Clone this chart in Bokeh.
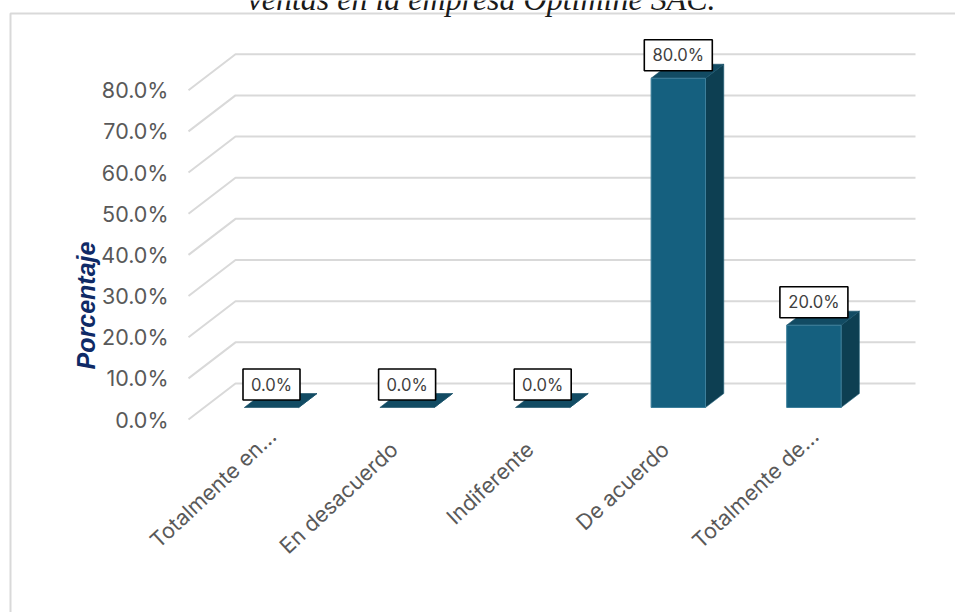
from math import pi
from bokeh.embed import file_html
from bokeh.resources import INLINE
from bokeh.plotting import figure
from bokeh.models import Range1d, Label, BoxAnnotation, FixedTicker
from bokeh.core.properties import value

categories = ["Totalmente en…", "En desacuerdo", "Indiferente", "De acuerdo", "Totalmente de…"]
percent = [0.0, 0.0, 0.0, 80.0, 20.0]
y_ticks = [0, 10, 20, 30, 40, 50, 60, 70, 80]
title_text = "ventas en la empresa Optimine SAC."
y_title = "Porcentaje"

PX_X = 135.6          # screen px per category
PX_Y = 4.116          # screen px per percentage point
X0 = 271.0            # screen x of category 0
Y0 = 419.0            # screen y of 0 %

def dx(px):
    return px / PX_X

def dy(px):
    return px / PX_Y

def sx(px):
    return (px - X0) / PX_X

def sy(px):
    return (Y0 - px) / PX_Y

W, H = 955, 612

p = figure(width=W, height=H, output_backend="svg", toolbar_location=None,
           x_range=Range1d(sx(0), sx(W)), y_range=Range1d(sy(H), sy(0)),
           min_border=0, min_border_left=0, min_border_right=0, min_border_top=0, min_border_bottom=0)
p.outline_line_color = None
p.grid.visible = False

# value axis, drawn inside the frame
ya = p.yaxis[0]
ya.fixed_location = sx(172)
ya.ticker = FixedTicker(ticks=y_ticks)
ya.major_label_overrides = {t: f"{t:.1f}%" for t in y_ticks}
ya.major_label_text_font = "Inter"
ya.major_label_text_font_size = "21.5px"
ya.major_label_text_color = "#595959"
ya.major_label_standoff = 4
ya.major_tick_out = 0
ya.major_tick_in = 0
ya.axis_line_color = None
ya.major_tick_line_color = None
ya.minor_tick_line_color = None

# category axis: labels are anchored individually below
xa = p.xaxis[0]
xa.fixed_location = 0
xa.ticker = FixedTicker(ticks=list(range(len(categories))))
xa.major_label_text_font_size = "0px"
xa.major_label_text_color = None
xa.major_tick_out = 0
xa.major_tick_in = 0
xa.axis_line_color = None
xa.major_tick_line_color = None
xa.minor_tick_line_color = None

# 3D gridlines
fx, bx, ex = sx(188), sx(235), sx(915)
wall = dy(36)
xs = [[fx, bx, ex] for _ in y_ticks]
ys = [[t, t + wall, t + wall] for t in y_ticks]
p.multi_line(xs, ys, line_color="#d9d9d9", line_width=2)

# 3D bars
half = dx(27.2)
ddx, ddy = dx(18.3), dy(14)
lift = dy(12)
for i, v in enumerate(percent):
    l, r = i - half, i + half
    b, t = lift, lift + v
    p.patch([r, r + ddx, r + ddx, r], [b, b + ddy, t + ddy, t], fill_color="#0d3f52", line_color="#2d6a83", line_width=0.6)
    p.patch([l, r, r + ddx, l + ddx], [t, t, t + ddy, t + ddy], fill_color="#124b63", line_color="#124b63", line_width=0.6)
    if v > 0:
        p.quad(left=[l], right=[r], bottom=[b], top=[t], fill_color="#15607f", line_color="#3d7f9b", line_width=1)

# data labels
for i, v in enumerate(percent):
    txt = f"{v:.1f}%"
    cy = lift + v + dy(23)
    p.rect([i], [cy], width=11.0 * len(txt) + 13, height=31, width_units="screen", height_units="screen",
           fill_color="#ffffff", line_color="#000000", line_width=1.6)
    p.text([i], [cy], text=[txt], text_align="center", text_baseline="middle",
           text_font=value("Inter"), text_font_size="16.6px", text_color="#404040")

# category labels: right end anchored near each category
for i, c in enumerate(categories):
    cut = c.endswith("…")
    p.text([i + dx(1 if cut else -13)], [sy(432 if cut else 445)], text=[c], angle=0.75,
           text_align="right", text_baseline="middle",
           text_font=value("Inter"), text_font_size="21.5px", text_color="#595959")

# outer chart border, left and top edges only visible
p.add_layout(BoxAnnotation(left=sx(10), right=sx(990), top=sy(13), bottom=sy(660),
                           fill_color=None, fill_alpha=0, line_color="#d9d9d9", line_alpha=1, line_width=2))

p.add_layout(Label(x=sx(481), y=sy(-2), text=title_text, text_align="center", text_baseline="alphabetic",
                   text_font="Liberation Serif", text_font_style="italic", text_font_size="32px",
                   text_color="#1a1a1a"))
p.add_layout(Label(x=sx(85), y=sy(305), text=y_title, angle=pi / 2, text_align="center", text_baseline="alphabetic",
                   text_font="Liberation Sans", text_font_style="bold italic", text_font_size="25px",
                   text_color="#0f2a66"))

open("out.html", "w").write(file_html(p, INLINE))
